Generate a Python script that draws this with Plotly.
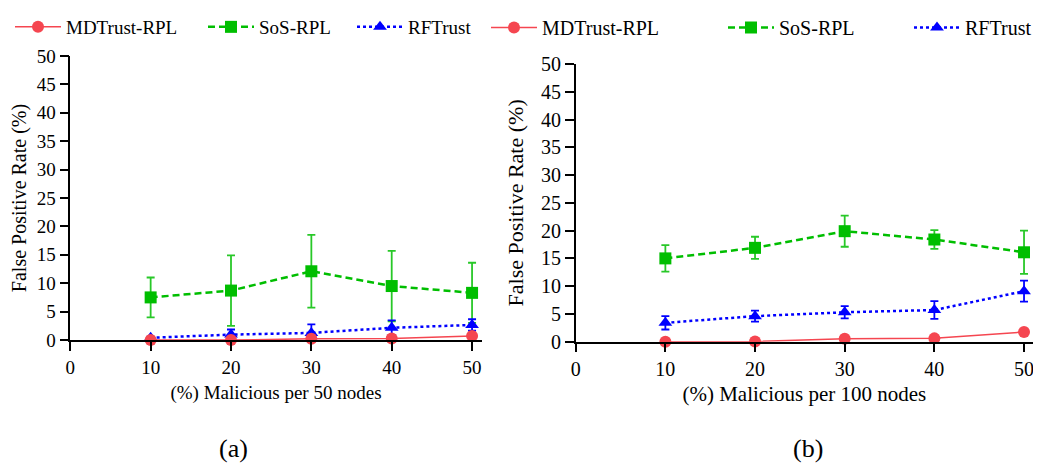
import plotly.graph_objects as go

x_vals = [10, 20, 30, 40, 50]
x_ticks = [0, 10, 20, 30, 40, 50]
y_ticks = [0, 5, 10, 15, 20, 25, 30, 35, 40, 45, 50]

# Panel (a): 50 nodes
md_a = [0.0, 0.0, 0.2, 0.25, 0.7]
md_a_err = [0.0, 0.0, 0.2, 0.2, 0.4]
sos_a = [7.5, 8.7, 12.1, 9.5, 8.3]
sos_a_err = [3.5, 6.2, 6.4, 6.2, 5.3]
rf_a = [0.4, 0.95, 1.25, 2.15, 2.65]
rf_a_err = [0.2, 0.9, 1.5, 1.3, 1.0]

# Panel (b): 100 nodes
md_b = [0.0, 0.05, 0.55, 0.6, 1.75]
md_b_err = [0.0, 0.0, 0.4, 0.2, 0.2]
sos_b = [15.0, 16.9, 19.9, 18.4, 16.1]
sos_b_err = [2.4, 2.0, 2.8, 1.7, 3.9]
rf_b = [3.4, 4.6, 5.3, 5.7, 9.1]
rf_b_err = [1.2, 1.0, 1.1, 1.6, 1.9]

names = ["MDTrust-RPL", "SoS-RPL", "RFTrust"]
FONT = "Liberation Serif"
RED = "rgb(245,70,80)"
GREEN = "rgb(0,190,0)"
GREEN_ERR = "rgb(40,200,40)"
BLUE = "rgb(0,0,255)"

# page body has an 8px margin: the figure is drawn at (8, 8) in the window
OFF = 8
W, H = 1041 - OFF, 464 - OFF


def fx(px):
    return (px - OFF) / W


def fy(py):
    return 1 - (py - OFF) / H


fig = go.Figure()


def add_panel(xa, ya, legend, md, md_e, sos, sos_e, rf, rf_e, lw_red, lw_green):
    fig.add_trace(go.Scatter(
        x=x_vals, y=sos, name=names[1], mode="lines+markers",
        xaxis=xa, yaxis=ya, legend=legend, legendrank=2, legendwidth=lw_green,
        line=dict(color=GREEN, width=2.5, dash="7px,4px"),
        marker=dict(symbol="square", size=12, color=GREEN),
        error_y=dict(type="data", array=sos_e, visible=True, color=GREEN_ERR, thickness=1.8, width=4),
        cliponaxis=False))
    fig.add_trace(go.Scatter(
        x=x_vals, y=rf, name=names[2], mode="lines+markers",
        xaxis=xa, yaxis=ya, legend=legend, legendrank=3,
        line=dict(color=BLUE, width=2.5, dash="3px,3px"),
        marker=dict(symbol="triangle-up", size=12, color=BLUE),
        error_y=dict(type="data", array=rf_e, visible=True, color=BLUE, thickness=1.8, width=4),
        cliponaxis=False))
    fig.add_trace(go.Scatter(
        x=x_vals, y=md, name=names[0], mode="lines+markers",
        xaxis=xa, yaxis=ya, legend=legend, legendrank=1, legendwidth=lw_red,
        line=dict(color=RED, width=1.5),
        marker=dict(symbol="circle", size=12, color=RED),
        error_y=dict(type="data", array=md_e, visible=True, color=RED, thickness=1.5, width=3),
        cliponaxis=False))


add_panel("x", "y", "legend", md_a, md_a_err, sos_a, sos_a_err, rf_a, rf_a_err, 132, 88)
add_panel("x2", "y2", "legend2", md_b, md_b_err, sos_b, sos_b_err, rf_b, rf_b_err, 176, 125)

axis_common = dict(showline=True, linecolor="black", linewidth=1.5, ticks="outside",
                   ticklen=9, tickwidth=1.5, tickcolor="black", showgrid=False, zeroline=False,
                   automargin=False)
tick_a = dict(family=FONT, size=19, color="black")
tick_b = dict(family=FONT, size=20, color="black")

fig.update_layout(
    width=W, height=H,
    margin=dict(l=0, r=0, t=0, b=0, autoexpand=False),
    paper_bgcolor="white", plot_bgcolor="white",
    font=dict(family=FONT, size=18, color="black"),
    xaxis=dict(domain=[fx(70.3), fx(481.7)], range=[0, 51.2], tickvals=x_ticks, anchor="y",
               title=dict(text="(%) Malicious per 50 nodes", font=dict(family=FONT, size=19), standoff=9),
               ticklabelstandoff=0, tickfont=tick_a, **axis_common),
    yaxis=dict(domain=[fy(340), fy(56)], range=[0, 50], tickvals=y_ticks, anchor="x",
               title=dict(text="False Positive Rate (%)", font=dict(family=FONT, size=20), standoff=9),
               tickfont=tick_a, **axis_common),
    xaxis2=dict(domain=[fx(575.7), fx(1033)], range=[0, 51], tickvals=x_ticks, anchor="y2",
                title=dict(text="(%) Malicious per 100 nodes", font=dict(family=FONT, size=21), standoff=7),
                ticklabelstandoff=0, tickfont=tick_b, **axis_common),
    yaxis2=dict(domain=[fy(341.7), fy(64)], range=[0, 50], tickvals=y_ticks, anchor="x2",
                title=dict(text="False Positive Rate (%)", font=dict(family=FONT, size=22), standoff=11),
                tickfont=tick_b, **axis_common),
    legend=dict(orientation="h", x=fx(10), y=1, xanchor="left", yanchor="top",
                itemwidth=46, font=dict(family=FONT, size=19), bgcolor="rgba(0,0,0,0)"),
    legend2=dict(orientation="h", x=fx(486), y=1, xanchor="left", yanchor="top",
                 itemwidth=46, font=dict(family=FONT, size=20), bgcolor="rgba(0,0,0,0)"),
    annotations=[
        dict(text="(a)", x=fx(233), y=fy(448), xref="paper", yref="paper",
             xanchor="center", yanchor="middle",
             showarrow=False, font=dict(family=FONT, size=26)),
        dict(text="(b)", x=fx(808), y=fy(448), xref="paper", yref="paper",
             xanchor="center", yanchor="middle",
             showarrow=False, font=dict(family=FONT, size=26)),
    ],
)

fig.write_html("out.html")
